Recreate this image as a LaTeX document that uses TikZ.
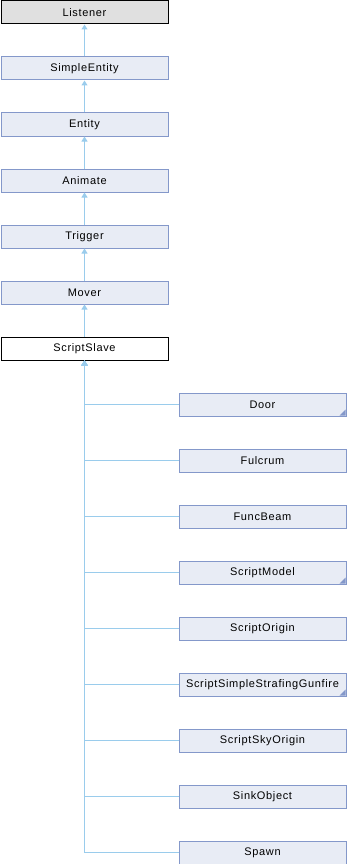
\documentclass[tikz,border=0pt]{standalone}
\usepackage{fontspec}
\setmainfont{Liberation Sans}
\newfontfamily\dfont[LetterSpace=6]{Liberation Sans}
\usetikzlibrary{arrows.meta}
\definecolor{boxfill}{RGB}{232,236,245}
\definecolor{boxline}{RGB}{132,152,202}
\definecolor{edgecol}{RGB}{154,204,236}
\definecolor{rootfill}{RGB}{224,224,224}
\begin{document}
\begin{tikzpicture}[x=1pt,y=-1pt,
  cls/.style={draw=boxline,fill=boxfill,line width=1pt,minimum width=167pt,minimum height=23pt,inner sep=0pt,font=\dfont\fontsize{11}{13}\selectfont,anchor=north west},
  rootcls/.style={cls,draw=black,fill=rootfill},
  curcls/.style={cls,draw=black,fill=white},
  inh/.style={draw=edgecol,line width=1pt,-{Triangle[length=5pt,width=6pt]}},
  more/.style={path picture={\fill[boxline] ([xshift=-0.5pt,yshift=0.5pt]path picture bounding box.south east) -- ++(-6pt,0) -- ++(6pt,6pt) -- cycle;}}]
\useasboundingbox (0,0) rectangle (346,864);
\node[rootcls] (listener) at (0.5,0.5) {Listener};
\node[cls] (simpleentity) at (0.5,56.5) {SimpleEntity};
\node[cls] (entity) at (0.5,112.5) {Entity};
\node[cls] (animate) at (0.5,168.5) {Animate};
\node[cls] (trigger) at (0.5,224.5) {Trigger};
\node[cls] (mover) at (0.5,280.5) {Mover};
\node[curcls] (scriptslave) at (0.5,336.5) {ScriptSlave};
\node[cls,more] (door) at (178.5,392.5) {Door};
\node[cls] (fulcrum) at (178.5,448.5) {Fulcrum};
\node[cls] (funcbeam) at (178.5,504.5) {FuncBeam};
\node[cls,more] (scriptmodel) at (178.5,560.5) {ScriptModel};
\node[cls] (scriptorigin) at (178.5,616.5) {ScriptOrigin};
\node[cls,more] (gunfire) at (178.5,672.5) {ScriptSimpleStrafingGunfire};
\node[cls] (skyorigin) at (178.5,728.5) {ScriptSkyOrigin};
\node[cls] (sinkobject) at (178.5,784.5) {SinkObject};
\node[cls] (spawn) at (178.5,840.5) {Spawn};
\draw[inh] (simpleentity.north) -- (listener.south);
\draw[inh] (entity.north) -- (simpleentity.south);
\draw[inh] (animate.north) -- (entity.south);
\draw[inh] (trigger.north) -- (animate.south);
\draw[inh] (mover.north) -- (trigger.south);
\draw[inh] (scriptslave.north) -- (mover.south);
\foreach \c in {door,fulcrum,funcbeam,scriptmodel,scriptorigin,gunfire,skyorigin,sinkobject,spawn}
  \draw[inh] (\c.west) -| (scriptslave.south);
\end{tikzpicture}
\end{document}
